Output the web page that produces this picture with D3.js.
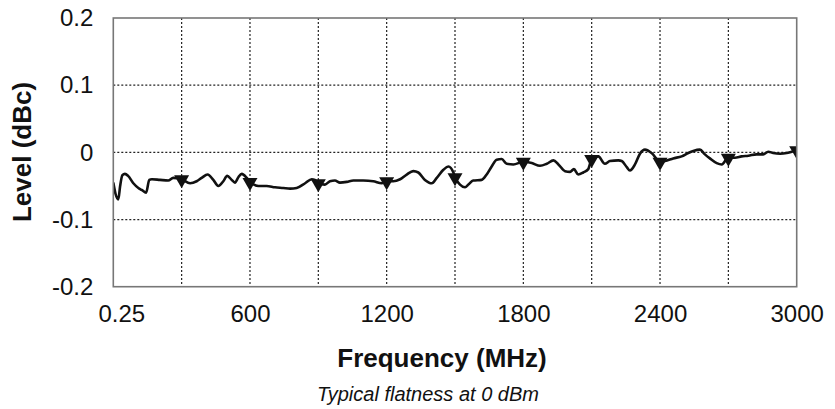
<!DOCTYPE html>
<html>
<head>
<meta charset="utf-8">
<script src="https://cdn.jsdelivr.net/npm/d3@7"></script>
<style>
  body { margin: 0; background: #fff; }
  text { font-family: "Liberation Sans", Arial, sans-serif; fill: #111; }
</style>
</head>
<body>
<div id="chart"></div>
<script>
// trace: frequency (MHz) and level (dBc)
const freq = [0, 10, 22, 30, 40, 51, 65, 88, 110, 125, 144, 158, 169, 205, 241, 263, 300,
  337, 366, 388, 414, 439, 461, 483, 500, 520, 534, 549, 564, 586, 600,
  637, 673, 710, 746, 776, 805, 842, 871, 885, 900,
  929, 951, 973, 995, 1025, 1054, 1097, 1141, 1178, 1200,
  1229, 1259, 1288, 1317, 1339, 1368, 1398, 1420, 1449, 1471, 1493, 1500,
  1522, 1544, 1559, 1580, 1617, 1639, 1661, 1683, 1705, 1727, 1756, 1800,
  1837, 1873, 1903, 1932, 1954, 1983, 2005, 2022, 2041, 2063, 2085, 2100,
  2129, 2158, 2180, 2217, 2232, 2254, 2268, 2290, 2312, 2334, 2363, 2400,
  2422, 2458, 2495, 2524, 2546, 2575, 2597, 2619, 2649, 2671, 2700,
  2729, 2758, 2788, 2824, 2853, 2875, 2897, 2927, 2956, 2978, 3000];
const level = [-0.045, -0.062, -0.070, -0.050, -0.034, -0.032, -0.035, -0.046, -0.053, -0.056, -0.060, -0.041, -0.040, -0.041, -0.042, -0.038, -0.040,
  -0.046, -0.043, -0.038, -0.033, -0.041, -0.050, -0.043, -0.035, -0.041, -0.045, -0.037, -0.032, -0.038, -0.044,
  -0.050, -0.050, -0.052, -0.053, -0.054, -0.053, -0.046, -0.040, -0.041, -0.046,
  -0.048, -0.043, -0.042, -0.045, -0.044, -0.042, -0.042, -0.043, -0.046, -0.043,
  -0.043, -0.040, -0.033, -0.028, -0.030, -0.041, -0.046, -0.038, -0.026, -0.021, -0.030, -0.037,
  -0.048, -0.052, -0.048, -0.042, -0.041, -0.033, -0.021, -0.011, -0.010, -0.017, -0.018, -0.014,
  -0.016, -0.020, -0.017, -0.012, -0.018, -0.028, -0.029, -0.025, -0.033, -0.030, -0.025, -0.010,
  -0.006, -0.017, -0.013, -0.012, -0.013, -0.022, -0.027, -0.018, -0.002, 0.004, -0.001, -0.014,
  -0.013, -0.009, -0.006, -0.001, 0.002, 0.004, -0.003, -0.009, -0.016, -0.018, -0.008,
  -0.008, -0.006, -0.005, -0.003, -0.003, 0.001, -0.001, -0.002, -0.001, 0.001, 0.003];

const marker_freq = [300, 600, 900, 1200, 1500, 1800, 2100, 2400, 2700, 3000];
const marker_level = [-0.040, -0.044, -0.046, -0.043, -0.037, -0.014, -0.010, -0.014, -0.008, 0.003];

const x_ticks = [0, 600, 1200, 1800, 2400, 3000];
const x_tick_labels = ["0.25", "600", "1200", "1800", "2400", "3000"];
const x_grid = [300, 600, 900, 1200, 1500, 1800, 2100, 2400, 2700];
const y_ticks = [-0.2, -0.1, 0, 0.1, 0.2];
const y_tick_labels = ["-0.2", "-0.1", "0", "0.1", "0.2"];

const chart_width = 835, chart_height = 409;
const plot_left = 113.3, plot_right = 796.7, plot_top = 18, plot_bottom = 286.7;

const svg = d3.select("#chart").append("svg")
  .attr("width", chart_width)
  .attr("height", chart_height);

const x = d3.scaleLinear().domain([0, 3000]).range([plot_left, plot_right]);
const y = d3.scaleLinear().domain([-0.2, 0.2]).range([plot_bottom, plot_top]);

svg.append("clipPath").attr("id", "plot-clip")
  .append("rect")
  .attr("x", plot_left).attr("y", plot_top)
  .attr("width", plot_right - plot_left).attr("height", plot_bottom - plot_top);

// dotted grid
svg.append("g")
  .selectAll("line")
  .data(x_grid)
  .join("line")
  .attr("x1", d => x(d)).attr("x2", d => x(d))
  .attr("y1", plot_top).attr("y2", plot_bottom)
  .attr("stroke", "#222").attr("stroke-width", 1.2)
  .attr("stroke-dasharray", "2,2");

svg.append("g")
  .selectAll("line")
  .data(y_ticks.slice(1, -1))
  .join("line")
  .attr("x1", plot_left).attr("x2", plot_right)
  .attr("y1", d => y(d)).attr("y2", d => y(d))
  .attr("stroke", "#222").attr("stroke-width", 1.2)
  .attr("stroke-dasharray", "2,2");

const plot = svg.append("g").attr("clip-path", "url(#plot-clip)");

const line = d3.line()
  .x((d, i) => x(freq[i]))
  .y(d => y(d))
  .curve(d3.curveMonotoneX);

plot.append("path")
  .datum(level)
  .attr("d", line)
  .attr("fill", "none")
  .attr("stroke", "#111")
  .attr("stroke-width", 2.6)
  .attr("stroke-linejoin", "round");

// downward triangles, hanging just under the trace
plot.selectAll("path.marker")
  .data(marker_freq)
  .join("path")
  .attr("class", "marker")
  .attr("transform", (d, i) => `translate(${x(d)},${y(marker_level[i])})`)
  .attr("d", "M-7.5,-4L7.5,-4L0,9Z")
  .attr("fill", "#111");

// frame
svg.append("rect")
  .attr("x", plot_left).attr("y", plot_top)
  .attr("width", plot_right - plot_left).attr("height", plot_bottom - plot_top)
  .attr("fill", "none")
  .attr("stroke", "#777")
  .attr("stroke-width", 1.6);

// axes
const x_axis = d3.axisBottom(x)
  .tickValues(x_ticks)
  .tickSize(0)
  .tickPadding(18)
  .tickFormat((d, i) => x_tick_labels[i]);

const gx = svg.append("g")
  .attr("transform", `translate(0,${plot_bottom})`)
  .call(x_axis);
gx.select(".domain").remove();
gx.selectAll("text").style("font-size", "24px")
  .style("font-family", "'Liberation Sans', Arial, sans-serif").attr("fill", "#111")
  .attr("dx", (d, i) => i === 0 ? 8 : 0);

const y_axis = d3.axisLeft(y)
  .tickValues(y_ticks)
  .tickSize(0)
  .tickPadding(20)
  .tickFormat((d, i) => y_tick_labels[i]);

const gy = svg.append("g")
  .attr("transform", `translate(${plot_left},0)`)
  .call(y_axis);
gy.select(".domain").remove();
gy.selectAll("text").style("font-size", "24px")
  .style("font-family", "'Liberation Sans', Arial, sans-serif").attr("fill", "#111");

// titles
svg.append("text")
  .attr("x", 442).attr("y", 367)
  .attr("text-anchor", "middle")
  .style("font-size", "26px").style("font-weight", "bold")
  .text("Frequency (MHz)");

svg.append("text")
  .attr("transform", "translate(31,152) rotate(-90)")
  .attr("text-anchor", "middle")
  .style("font-size", "26px").style("font-weight", "bold")
  .text("Level (dBc)");

svg.append("text")
  .attr("x", 428).attr("y", 401)
  .attr("text-anchor", "middle")
  .style("font-size", "20px").style("font-style", "italic")
  .text("Typical flatness at 0 dBm");
</script>
</body>
</html>
